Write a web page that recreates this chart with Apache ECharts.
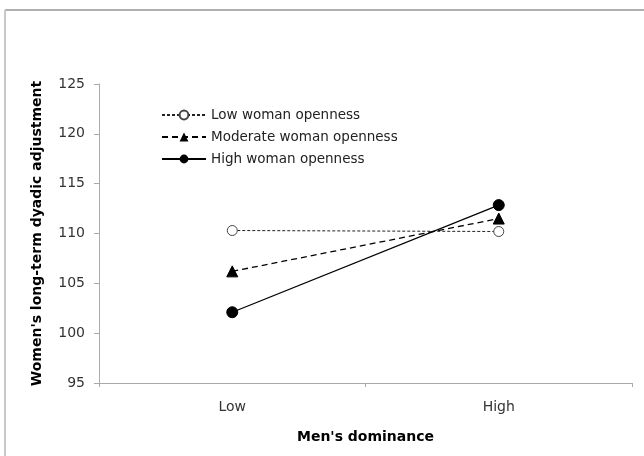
<!DOCTYPE html>
<html><head><meta charset="utf-8">
<script src="https://cdn.jsdelivr.net/npm/echarts@6/dist/echarts.min.js"></script>
<style>html,body{margin:0;padding:0;background:#fff}#c{width:644px;height:456px}</style>
</head><body><div id="c"></div>
<script>
const categories = ['Low', 'High'];
const lowOpenness = [110.3, 110.2];
const moderateOpenness = [106.2, 111.5];
const highOpenness = [102.1, 112.85];
const yTicks = {min: 95, max: 125, interval: 5};
const seriesNames = ['Low woman openness', 'Moderate woman openness', 'High woman openness'];

const chart = echarts.init(document.getElementById('c'), null, {renderer: 'canvas'});
const font = 'DejaVu Sans';
chart.setOption({
  animation: false,
  backgroundColor: '#fff',
  graphic: [
    {type: 'line', shape: {x1: 5, y1: 10, x2: 644, y2: 10}, style: {stroke: '#b0b0b0', lineWidth: 2}},
    {type: 'line', shape: {x1: 5, y1: 10, x2: 5, y2: 456}, style: {stroke: '#c8c8c8', lineWidth: 2}}
  ],
  grid: {left: 99, right: 12, top: 84, bottom: 73},
  legend: {
    left: 156, top: 103, orient: 'vertical', itemGap: 8, itemWidth: 44, itemHeight: 11,
    textStyle: {fontFamily: font, fontSize: 13.5, color: '#222'},
    data: seriesNames
  },
  xAxis: {
    type: 'category', data: categories, boundaryGap: true,
    name: "Men's dominance", nameLocation: 'middle', nameGap: 47,
    nameTextStyle: {fontFamily: font, fontSize: 14, fontWeight: 'bold', color: '#000'},
    axisLine: {lineStyle: {color: '#aaa', width: 1}},
    axisTick: {show: true, alignWithLabel: false, length: 4, lineStyle: {color: '#aaa'}},
    axisLabel: {fontFamily: font, fontSize: 14, color: '#333', margin: 17}
  },
  yAxis: {
    type: 'value', min: yTicks.min, max: yTicks.max, interval: yTicks.interval,
    name: "Women's long-term dyadic adjustment", nameLocation: 'middle', nameGap: 55,
    nameTextStyle: {fontFamily: font, fontSize: 14, fontWeight: 'bold', color: '#000'},
    axisLine: {show: true, lineStyle: {color: '#aaa', width: 1}},
    axisTick: {show: true, length: 5, lineStyle: {color: '#aaa'}},
    splitLine: {show: false},
    axisLabel: {fontFamily: font, fontSize: 14, color: '#333', margin: 14}
  },
  series: [
    {name: seriesNames[0], type: 'line', data: lowOpenness, symbol: 'circle', symbolSize: 10,
     itemStyle: {color: '#fff', borderColor: '#444', borderWidth: 1},
     lineStyle: {color: '#222', width: 1, type: [3, 2]}},
    {name: seriesNames[1], type: 'line', data: moderateOpenness, symbol: 'triangle', symbolSize: 11,
     itemStyle: {color: '#000', borderColor: '#000'},
     lineStyle: {color: '#000', width: 1.3, type: [6, 4]}},
    {name: seriesNames[2], type: 'line', data: highOpenness, symbol: 'circle', symbolSize: 11,
     itemStyle: {color: '#000', borderColor: '#000'},
     lineStyle: {color: '#000', width: 1.3, type: 'solid'}}
  ]
});
</script></body></html>
